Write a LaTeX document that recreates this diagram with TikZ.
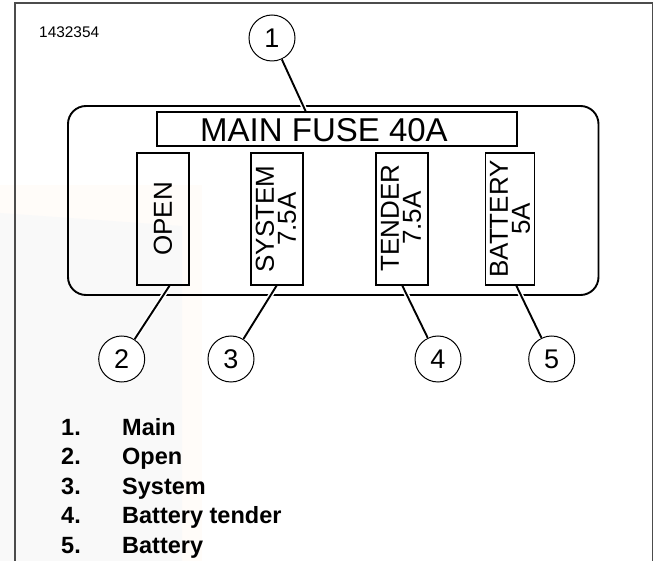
\documentclass[tikz,border=0pt]{standalone}
\usepackage{fontspec}
\setmainfont{Liberation Sans}
\definecolor{tintwarm}{HTML}{FFFCF9}
\definecolor{tintcool}{HTML}{F9F9F9}
\tikzset{
  frameline/.style={draw=black!70,line width=1.3pt},
  panel/.style={draw=black,line width=1.9pt,rounded corners=18pt},
  fusebox/.style={draw=black,line width=1.6pt,minimum width=52pt,minimum height=132pt,inner sep=0pt},
  mainbox/.style={draw=black,line width=1.6pt,minimum width=360pt,minimum height=34pt,inner sep=0pt},
  callout/.style={circle,draw=black,line width=1pt,fill=white,minimum size=46pt,inner sep=0pt,font=\fontsize{27}{27}\selectfont},
  leader/.style={draw=black,line width=1.9pt},
  halo/.style={draw=white,line width=5pt},
  fuselabel/.style={rotate=90,align=center,font=\fontsize{26}{22}\selectfont,inner sep=0pt},
  legend/.style={anchor=base west,inner sep=0pt,font=\fontsize{23.5}{23.5}\selectfont\bfseries}
}
\begin{document}
\begin{tikzpicture}[x=1pt,y=-1pt]
\useasboundingbox (0,0) rectangle (654,561);
\fill[white] (0,0) rectangle (654,561);
\fill[tintwarm] (0,185) rectangle (202,561);
\fill[tintcool] (0,213) -- (182,226) -- (182,561) -- (0,561) -- cycle;
\coordinate (fbl) at (15,561);
\coordinate (ftl) at (15,3);
\coordinate (ftr) at (652.7,3);
\coordinate (fbr) at (652.7,561);
\draw[frameline] (fbl) -- (ftl) -- (ftr) -- (fbr);
\node[anchor=base west,inner sep=0pt,font=\fontsize{15.4}{15.4}\selectfont] (code) at (39,38) {1432354};
\draw[panel] (68,106) rectangle (598.5,295);
\coordinate (p1) at (306,112);
\coordinate (p2) at (170,285);
\coordinate (p3) at (277,285);
\coordinate (p4) at (402,285);
\coordinate (p5) at (516,285);
\node[callout] (c1) at (272,38) {1};
\node[callout] (c2) at (121.7,359) {2};
\node[callout] (c3) at (231,359) {3};
\node[callout] (c4) at (438,359) {4};
\node[callout] (c5) at (551.7,359) {5};
\foreach \c/\p in {c1/p1,c2/p2,c3/p3,c4/p4,c5/p5}{
  \draw[halo] (\c) -- (\p);
}
\node[mainbox] (main) at (337,129) {};
\node[font=\fontsize{33}{33}\selectfont,inner sep=0pt,anchor=base] (maintext) at (324,141.7) {MAIN FUSE 40A};
\node[fusebox] (open) at (163,219) {};
\node[fusebox] (system) at (277,219) {};
\node[fusebox] (tender) at (402,219) {};
\node[fusebox,minimum width=49pt] (battery) at (510,219) {};
\node[fuselabel] (openlabel) at (open.center) {OPEN};
\node[fuselabel] (systemlabel) at (276,219) {SYSTEM\\7.5A};
\node[fuselabel] (tenderlabel) at (401,218) {TENDER\\7.5A};
\node[fuselabel] (batterylabel) at (510,219) {BATTERY\\5A};
\foreach \c/\p in {c1/p1,c2/p2,c3/p3,c4/p4,c5/p5}{
  \draw[leader] (\c) -- (\p);
}
\foreach \n/\t/\y in {1/Main/436,2/Open/465,3/System/495,4/Battery tender/524,5/Battery/553}{
  \node[legend] (num\n) at (61,\y) {\n.};
  \node[legend] (txt\n) at (122,\y) {\t};
}
\end{tikzpicture}
\end{document}
